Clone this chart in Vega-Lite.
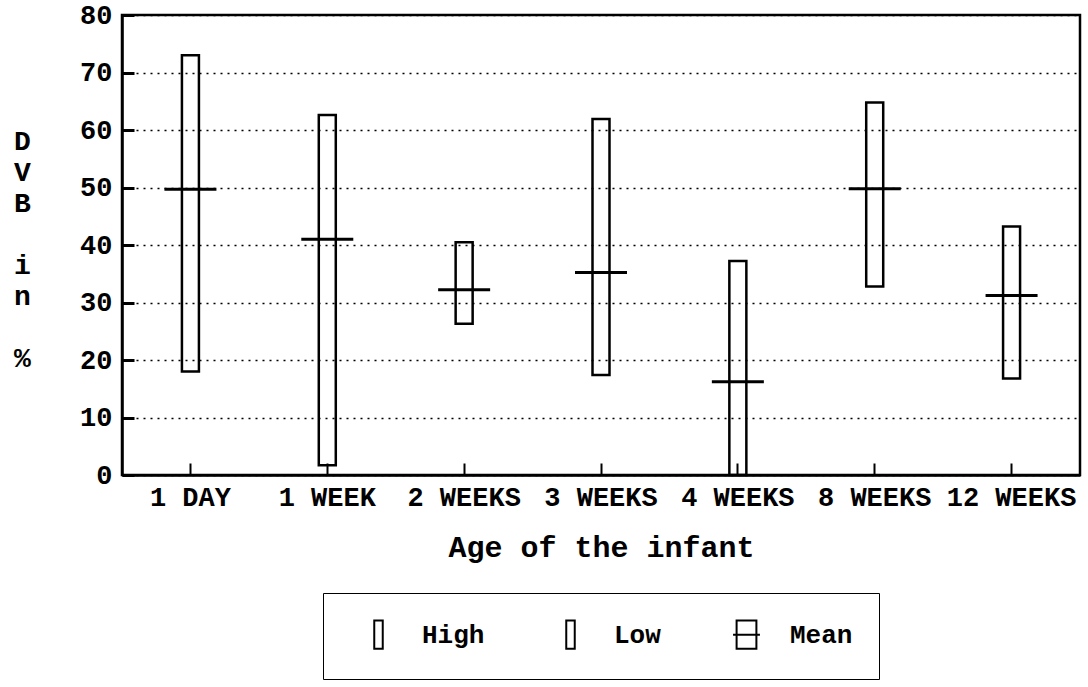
{
  "$schema": "https://vega.github.io/schema/vega-lite/v6.json",
  "autosize": "none",
  "width": 958,
  "height": 460,
  "padding": {"left": 122, "top": 15, "right": 8, "bottom": 212},
  "background": "white",
  "datasets": {
    "stats": [
      {"age": "1 DAY", "low": 18.0, "high": 73.0, "mean": 49.7},
      {"age": "1 WEEK", "low": 1.7, "high": 62.6, "mean": 41.0},
      {"age": "2 WEEKS", "low": 26.3, "high": 40.5, "mean": 32.2},
      {"age": "3 WEEKS", "low": 17.4, "high": 61.9, "mean": 35.2},
      {"age": "4 WEEKS", "low": 0.0, "high": 37.2, "mean": 16.2},
      {"age": "8 WEEKS", "low": 32.8, "high": 64.8, "mean": 49.8},
      {"age": "12 WEEKS", "low": 16.8, "high": 43.2, "mean": 31.2}
    ],
    "legendRows": [
      {"series": "High"},
      {"series": "Low"},
      {"series": "Mean"}
    ]
  },
  "layer": [
    {
      "data": {"name": "stats"},
      "mark": {"type": "bar", "width": 17, "fill": "transparent", "stroke": "black", "strokeWidth": 2.5},
      "encoding": {
        "x": {
          "field": "age", "type": "nominal",
          "sort": ["1 DAY", "1 WEEK", "2 WEEKS", "3 WEEKS", "4 WEEKS", "8 WEEKS", "12 WEEKS"],
          "scale": {"type": "band", "paddingInner": 0, "paddingOuter": 0},
          "axis": {
            "title": "Age of the infant",
            "labelAngle": 0,
            "labelPadding": 21,
            "tickSize": -12,
            "tickWidth": 2,
            "titleFontSize": 30,
            "titlePadding": 22
          }
        },
        "y": {
          "field": "low", "type": "quantitative",
          "scale": {"domain": [0, 80], "nice": false, "zero": true},
          "axis": {
            "values": [0, 10, 20, 30, 40, 50, 60, 70, 80],
            "title": ["D", "V", "B", "\u2800", "i", "n", "\u2800", "%"],
            "titleAngle": 0,
            "titleAlign": "center",
            "titleBaseline": "top",
            "titleX": -100,
            "titleY": 112,
            "titleLineHeight": 31,
            "titleFontSize": 28,
            "labelPadding": 22,
            "tickSize": -12,
            "tickWidth": 3,
            "grid": true,
            "gridDash": [2, 5],
            "gridColor": "black",
            "gridWidth": 1.6,
            "gridOpacity": 1
          }
        },
        "y2": {"field": "high"}
      }
    },
    {
      "data": {"name": "stats"},
      "mark": {"type": "tick", "size": 52, "thickness": 3, "color": "black", "opacity": 1},
      "encoding": {
        "x": {"field": "age", "type": "nominal", "sort": ["1 DAY", "1 WEEK", "2 WEEKS", "3 WEEKS", "4 WEEKS", "8 WEEKS", "12 WEEKS"]},
        "y": {"field": "mean", "type": "quantitative"}
      }
    },
    {
      "data": {"name": "legendRows"},
      "mark": {"type": "point", "opacity": 0, "filled": false},
      "encoding": {
        "shape": {
          "field": "series", "type": "nominal",
          "scale": {
            "domain": ["High", "Low", "Mean"],
            "range": [
              "M-0.3,-1H0.3V1H-0.3Z",
              "M-0.3,-1H0.3V1H-0.3Z",
              "M-0.7,-1H0.7V1H-0.7Z M-0.95,0H0.95"
            ]
          },
          "legend": {
            "title": null,
            "orient": "none",
            "legendX": 201,
            "legendY": 578,
            "direction": "horizontal",
            "padding": 26,
            "strokeColor": "black",
            "fillColor": "white",
            "symbolSize": 800,
            "symbolOffset": 14,
            "symbolOpacity": 1,
            "symbolStrokeColor": "black",
            "symbolFillColor": "transparent",
            "symbolStrokeWidth": 2,
            "labelFont": "Liberation Mono",
            "labelFontSize": 26,
            "labelFontWeight": "bold",
            "labelColor": "black",
            "labelOffset": 28,
            "columnPadding": 56,
            "encode": {"legend": {"update": {"strokeWidth": {"value": 2.5}}}}
          }
        }
      }
    }
  ],
  "config": {
    "view": {"stroke": "black", "strokeWidth": 2.5},
    "axis": {
      "domainColor": "black",
      "domainWidth": 2.5,
      "tickColor": "black",
      "labelFont": "Liberation Mono",
      "labelFontSize": 27,
      "labelFontWeight": "bold",
      "labelColor": "black",
      "titleFont": "Liberation Mono",
      "titleFontWeight": "bold",
      "titleColor": "black"
    }
  }
}
